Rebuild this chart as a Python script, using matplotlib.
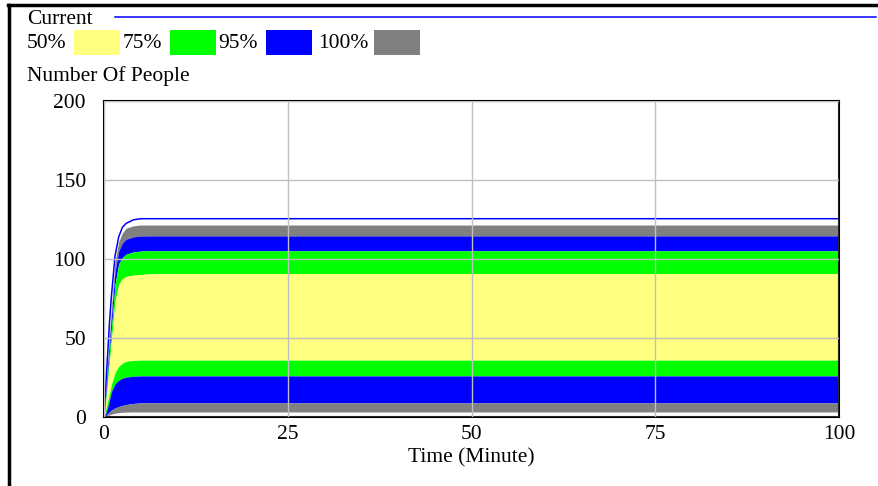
import matplotlib
matplotlib.use('Agg')
import matplotlib.pyplot as plt
from matplotlib.patches import Rectangle
from matplotlib.lines import Line2D

plt.rcParams['font.family'] = ['Liberation Serif', 'DejaVu Serif']

# time axis (minutes) and values
time = [0, 0.25, 0.5, 0.75, 1, 1.5, 2, 2.5, 3, 4, 5, 6, 8, 10, 100]

current = [0, 20, 40, 60, 76, 102, 114, 120, 122.5, 124.8, 125.5, 125.5, 125.5, 125.5, 125.5]

gray_top = [0, 17, 35, 52, 68, 98, 111, 116.5, 119.5, 121, 121.5, 121.5, 121.5, 121.5, 121.5]
blue_top = [0, 15, 32, 48, 63, 92, 105, 110, 112.5, 114, 114.5, 114.6, 114.6, 114.6, 114.6]
green_top = [0, 12, 27, 42, 56, 84, 97, 101, 103, 104.5, 105, 105.2, 105.2, 105.2, 105.2]
yellow_top = [0, 10, 22, 35, 48, 73, 84, 87.5, 89, 89.8, 90.2, 90.5, 90.8, 90.8, 90.8]
yellow_bot = [0, 5, 10, 15, 20.5, 28, 32, 34, 35.2, 35.8, 36, 36, 36, 36, 36]
green_bot = [0, 2.5, 6, 11, 16, 21, 23.3, 24.5, 25.2, 25.8, 26, 26, 26, 26, 26]
blue_bot = [0, 1, 2.2, 3.3, 4.4, 5.7, 6.6, 7.3, 7.9, 8.6, 8.9, 8.9, 8.9, 8.9, 8.9]
gray_bot = [0, 0.5, 1, 1.4, 1.8, 2.4, 2.8, 3.0, 3.1, 3.2, 3.2, 3.2, 3.2, 3.2, 3.2]

x_ticks = [0, 25, 50, 75, 100]
y_ticks = [0, 50, 100, 150, 200]
legend_labels = ['50%', '75%', '95%', '100%']

YELLOW = '#ffff80'
GREEN = '#00ff00'
BLUE = '#0000ff'
GRAY = '#808080'
FS = 15.5

W, H = 879, 486
fig = plt.figure(figsize=(W / 100, H / 100), dpi=100)

def fx(px):
    return px / W

def fy(py):
    return 1 - py / H

ax = fig.add_axes([fx(104), fy(417), fx(839) - fx(104), fy(101) - fy(417)])

ax.fill_between(time, gray_top, blue_top, color=GRAY, lw=0)
ax.fill_between(time, blue_top, green_top, color=BLUE, lw=0)
ax.fill_between(time, green_top, yellow_top, color=GREEN, lw=0)
ax.fill_between(time, yellow_top, yellow_bot, color=YELLOW, lw=0)
ax.fill_between(time, yellow_bot, green_bot, color=GREEN, lw=0)
ax.fill_between(time, green_bot, blue_bot, color=BLUE, lw=0)
ax.fill_between(time, blue_bot, gray_bot, color=GRAY, lw=0)
ax.plot(time, current, color=BLUE, lw=1.1)

ax.set_xlim(0, 100)
ax.set_ylim(0, 200)
ax.set_xticks(x_ticks)
ax.set_yticks(y_ticks)
ax.tick_params(length=0, labelsize=FS)
ax.tick_params(axis='x', pad=6)
ax.tick_params(axis='y', pad=13)
ax.set_axisbelow(False)
ax.grid(True, color='#c0c0c0', lw=1)
for s in ax.spines.values():
    s.set_linewidth(1.5)
    s.set_color('black')
ax.set_xlabel('Time (Minute)', fontsize=FS, labelpad=3)

# outer frame (top and left)
fig.add_artist(Line2D([fx(8), 1], [fy(5), fy(5)], color='black', lw=2.5))
fig.add_artist(Line2D([fx(8.5), fx(8.5)], [0, fy(5)], color='black', lw=2.5))

# legend
fig.text(fx(27), fy(19), 'Current', fontsize=FS, va='center', ha='left')
fig.add_artist(Line2D([fx(115), fx(876)], [fy(17), fy(17)], color=BLUE, lw=1.1))

text_x = [27, 123, 218, 318]
box_x = [74, 170, 266, 374]
box_c = [YELLOW, GREEN, BLUE, GRAY]
for lab, tx, bx, c in zip(legend_labels, text_x, box_x, box_c):
    fig.text(fx(tx), fy(43), lab, fontsize=FS, va='center', ha='left')
    fig.add_artist(Rectangle((fx(bx), fy(55)), fx(46), fy(30) - fy(55), color=c, lw=0))

fig.text(fx(27), fy(76), 'Number Of People', fontsize=FS, va='center', ha='left')

fig.savefig('out.png', dpi=100)
